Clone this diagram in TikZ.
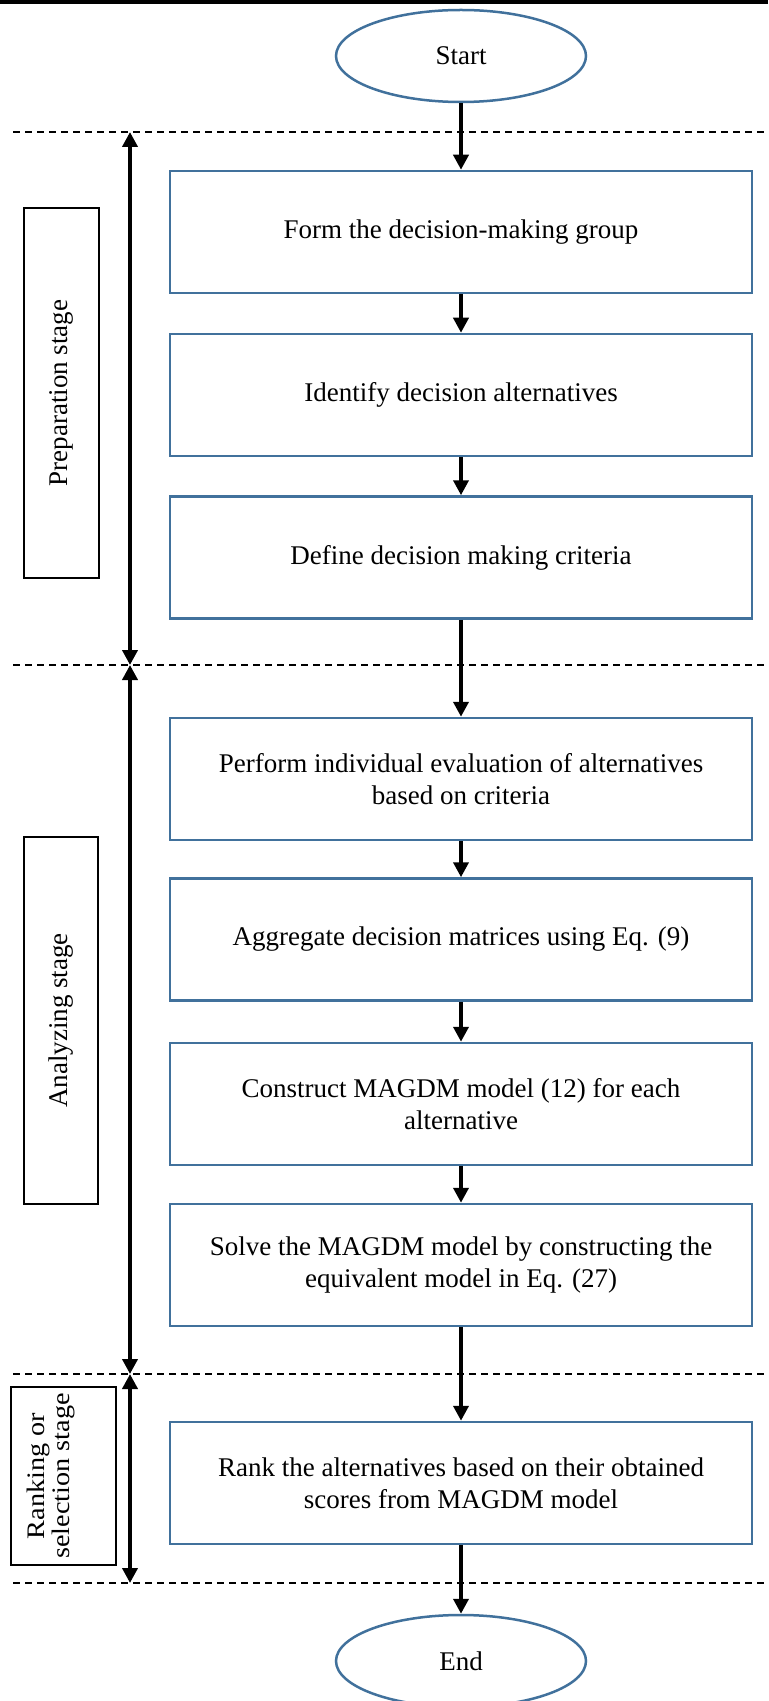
\documentclass[tikz,border=0pt]{standalone}
\usepackage{fontspec}
\setmainfont{Liberation Serif}
\newfontfamily\widefont[FakeStretch=1.12]{Liberation Serif}
\usetikzlibrary{arrows.meta,shapes.geometric,positioning}
\definecolor{boxblue}{RGB}{65,113,156}

\begin{document}
\begin{tikzpicture}
[x=0.5pt, y=-0.5pt, font=\fontsize{13.5}{16}\selectfont,
stepbox/.style={rectangle,draw=boxblue,line width=1.25pt,minimum width=291pt,minimum height=61pt,align=center,inner sep=0pt},
termnode/.style={ellipse,draw=boxblue,line width=1.25pt,minimum width=125pt,minimum height=46pt,inner sep=0pt},
stagebox/.style={rectangle,draw=black,line width=1pt,rotate=90,align=center,inner sep=0pt},
flow/.style={-{Triangle[width=7.5pt,length=7.5pt]},line width=2pt},
span/.style={{Triangle[width=7.5pt,length=7.5pt]}-{Triangle[width=7.5pt,length=7.5pt]},line width=2pt},
sepline/.style={dash pattern=on 3.5pt off 2.5pt,line width=1pt}
]

\useasboundingbox (0,0) rectangle (768,1701);
\fill (0,0) rectangle (768,4);

% Stage separators
\foreach \y/\i in {132/a,665/b,1374/c,1583/d} {
  \coordinate (sl\i) at (13,\y);
  \coordinate (sr\i) at (768,\y);
  \coordinate (sm\i) at (130,\y);
  \draw[sepline] (sl\i) -- (sr\i);
}

% Start and End
\node[termnode] (start) at (461,56) {Start};
\node[termnode] (stop) at (461,1661) {End};

% Steps
\foreach \y/\i/\t in {232/1/{Form the decision-making group},
                      395/2/{Identify decision alternatives},
                      557.5/3/{Define decision making criteria},
                      779/4/{Perform individual evaluation of alternatives\\based on criteria},
                      939.5/5/{Aggregate decision matrices using Eq. (9)},
                      1104/6/{Construct MAGDM model (12) for each\\alternative},
                      1265/7/{Solve the MAGDM model by constructing the\\equivalent model in Eq. (27)},
                      1483/8/{Rank the alternatives based on their obtained\\scores from MAGDM model}} {
  \node[stepbox] (box\i) at (461,\y) {\t};
}

\foreach \a/\b in {start/box1,box1/box2,box2/box3,box3/box4,box4/box5,box5/box6,box6/box7,box7/box8,box8/stop} {
  \draw[flow] (\a) -- (\b);
}

% Stage labels
\node[stagebox,minimum width=185pt,minimum height=37.5pt] (prep) at (61,393) {Preparation stage};
\node[stagebox,minimum width=183.5pt,minimum height=37pt] (anal) at (61,1020.5) {Analyzing stage};
\node[stagebox,minimum width=89pt,minimum height=52.5pt,text depth=15pt,
      font=\widefont\fontsize{12.6}{11}\selectfont] (rank) at (63.5,1476) {Ranking or\\selection stage};

\draw[span] (sma) -- (smb);
\draw[span] (smb) -- (smc);
\draw[span] (smc) -- (smd);
\end{tikzpicture}
\end{document}
